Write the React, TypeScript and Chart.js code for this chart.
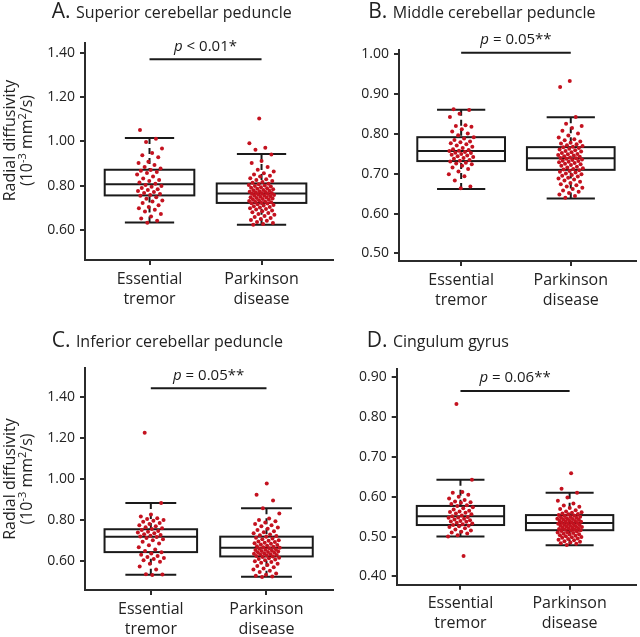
import React, { useEffect, useRef } from 'react';
import { Chart, registerables } from 'chart.js';
Chart.register(...registerables);

// ---------- data ----------
const xTickLabels = [['Essential', 'tremor'], ['Parkinson', 'disease']];
const panelLetters = ['A.', 'B.', 'C.', 'D.'];
const panelTitles = ['Superior cerebellar peduncle', 'Middle cerebellar peduncle', 'Inferior cerebellar peduncle', 'Cingulum gyrus'];
const pValueTexts = [' < 0.01*', ' = 0.05**', ' = 0.05**', ' = 0.06**'];
const sigBarY = [1.371, 1.004, 1.441, 0.866];

const yTicksA = [0.6, 0.8, 1.0, 1.2, 1.4];
const yTicksB = [0.5, 0.6, 0.7, 0.8, 0.9, 1.0];
const yTicksC = [0.6, 0.8, 1.0, 1.2, 1.4];
const yTicksD = [0.4, 0.5, 0.6, 0.7, 0.8, 0.9];

// box stats: [lower whisker, Q1, median, Q3, upper whisker]
const aEtBox = [0.633, 0.756, 0.807, 0.872, 1.015];
const aPdBox = [0.623, 0.722, 0.765, 0.810, 0.943];
const bEtBox = [0.662, 0.732, 0.757, 0.792, 0.861];
const bPdBox = [0.638, 0.710, 0.739, 0.767, 0.842];
const cEtBox = [0.535, 0.645, 0.719, 0.756, 0.884];
const cPdBox = [0.525, 0.624, 0.666, 0.720, 0.858];
const dEtBox = [0.500, 0.529, 0.551, 0.577, 0.643];
const dPdBox = [0.478, 0.516, 0.534, 0.554, 0.610];

const aEt = [1.052, 1.012, 0.998, 0.968, 0.948, 0.938, 0.928, 0.908, 0.902, 0.894, 0.884, 0.878, 0.871, 0.868, 0.862, 0.857, 0.851, 0.842, 0.833, 0.826, 0.821, 0.814, 0.809, 0.803, 0.799, 0.795, 0.789, 0.784, 0.781, 0.776, 0.771, 0.767, 0.762, 0.758, 0.755, 0.748, 0.741, 0.733, 0.728, 0.722, 0.712, 0.704, 0.698, 0.691, 0.683, 0.672, 0.661, 0.652, 0.641, 0.632];
const aPd = [1.104, 0.992, 0.972, 0.962, 0.941, 0.912, 0.903, 0.884, 0.872, 0.864, 0.856, 0.851, 0.845, 0.841, 0.834, 0.829, 0.826, 0.821, 0.817, 0.813, 0.809, 0.806, 0.803, 0.801, 0.798, 0.796, 0.793, 0.791, 0.788, 0.786, 0.784, 0.781, 0.779, 0.777, 0.775, 0.773, 0.771, 0.769, 0.767, 0.766, 0.764, 0.762, 0.760, 0.758, 0.756, 0.754, 0.752, 0.750, 0.748, 0.746, 0.744, 0.742, 0.740, 0.738, 0.736, 0.734, 0.731, 0.729, 0.727, 0.725, 0.723, 0.721, 0.719, 0.716, 0.713, 0.710, 0.707, 0.704, 0.701, 0.698, 0.695, 0.692, 0.688, 0.684, 0.680, 0.676, 0.672, 0.668, 0.663, 0.658, 0.654, 0.649, 0.645, 0.641, 0.636, 0.631, 0.627, 0.623];
const bEt = [0.862, 0.860, 0.851, 0.843, 0.822, 0.820, 0.818, 0.812, 0.806, 0.801, 0.797, 0.792, 0.789, 0.785, 0.781, 0.779, 0.777, 0.774, 0.771, 0.768, 0.765, 0.762, 0.760, 0.758, 0.757, 0.755, 0.753, 0.752, 0.750, 0.748, 0.746, 0.744, 0.742, 0.740, 0.738, 0.735, 0.733, 0.731, 0.728, 0.726, 0.724, 0.720, 0.716, 0.712, 0.706, 0.699, 0.694, 0.683, 0.668, 0.664];
const bPd = [0.933, 0.918, 0.843, 0.826, 0.820, 0.815, 0.808, 0.801, 0.796, 0.791, 0.787, 0.784, 0.781, 0.778, 0.776, 0.774, 0.772, 0.770, 0.768, 0.767, 0.765, 0.763, 0.761, 0.759, 0.757, 0.756, 0.754, 0.752, 0.750, 0.749, 0.747, 0.746, 0.744, 0.743, 0.741, 0.740, 0.739, 0.738, 0.736, 0.735, 0.733, 0.732, 0.730, 0.729, 0.727, 0.725, 0.724, 0.722, 0.720, 0.718, 0.716, 0.714, 0.712, 0.711, 0.709, 0.707, 0.705, 0.703, 0.701, 0.699, 0.697, 0.695, 0.693, 0.690, 0.688, 0.686, 0.683, 0.680, 0.677, 0.674, 0.671, 0.668, 0.665, 0.662, 0.658, 0.655, 0.652, 0.648, 0.644, 0.640];
const cEt = [1.225, 0.884, 0.828, 0.818, 0.810, 0.806, 0.801, 0.797, 0.792, 0.786, 0.781, 0.776, 0.771, 0.766, 0.761, 0.757, 0.752, 0.748, 0.744, 0.740, 0.736, 0.732, 0.728, 0.725, 0.721, 0.718, 0.713, 0.708, 0.702, 0.695, 0.687, 0.678, 0.668, 0.658, 0.650, 0.644, 0.638, 0.632, 0.626, 0.621, 0.616, 0.611, 0.605, 0.598, 0.588, 0.575, 0.561, 0.538, 0.536, 0.534];
const cPd = [0.978, 0.924, 0.896, 0.858, 0.832, 0.808, 0.801, 0.795, 0.789, 0.782, 0.776, 0.770, 0.764, 0.758, 0.752, 0.746, 0.741, 0.736, 0.731, 0.727, 0.723, 0.719, 0.715, 0.711, 0.707, 0.703, 0.700, 0.697, 0.694, 0.691, 0.688, 0.685, 0.682, 0.679, 0.676, 0.673, 0.671, 0.668, 0.666, 0.664, 0.661, 0.659, 0.657, 0.655, 0.652, 0.650, 0.648, 0.646, 0.644, 0.642, 0.640, 0.637, 0.635, 0.633, 0.631, 0.628, 0.626, 0.624, 0.621, 0.618, 0.615, 0.612, 0.609, 0.605, 0.601, 0.597, 0.593, 0.588, 0.583, 0.578, 0.572, 0.566, 0.560, 0.554, 0.548, 0.541, 0.535, 0.530, 0.527, 0.524];
const dEt = [0.833, 0.643, 0.612, 0.610, 0.605, 0.600, 0.596, 0.592, 0.588, 0.586, 0.585, 0.582, 0.579, 0.577, 0.574, 0.571, 0.568, 0.565, 0.563, 0.562, 0.560, 0.558, 0.556, 0.553, 0.551, 0.549, 0.548, 0.547, 0.545, 0.543, 0.541, 0.539, 0.538, 0.537, 0.535, 0.533, 0.531, 0.529, 0.527, 0.526, 0.524, 0.521, 0.518, 0.515, 0.512, 0.510, 0.508, 0.503, 0.500, 0.451];
const dPd = [0.659, 0.620, 0.610, 0.598, 0.590, 0.583, 0.578, 0.575, 0.572, 0.569, 0.566, 0.563, 0.561, 0.560, 0.558, 0.557, 0.556, 0.554, 0.553, 0.552, 0.550, 0.549, 0.548, 0.547, 0.546, 0.545, 0.544, 0.543, 0.542, 0.541, 0.540, 0.539, 0.538, 0.537, 0.536, 0.535, 0.534, 0.533, 0.532, 0.531, 0.530, 0.529, 0.528, 0.527, 0.526, 0.525, 0.524, 0.523, 0.522, 0.521, 0.520, 0.519, 0.518, 0.517, 0.516, 0.515, 0.514, 0.513, 0.511, 0.510, 0.509, 0.507, 0.506, 0.505, 0.503, 0.502, 0.501, 0.499, 0.498, 0.497, 0.495, 0.494, 0.492, 0.491, 0.488, 0.487, 0.485, 0.483, 0.482, 0.479];

// ---------- layout / style ----------
const FONT = '"Open Sans", sans-serif';
const INK = '#1a1a1a';
const AXIS = '#2b2b2b';
const RED = '#c4121f';
const W = 640, H = 637;
const YW = 60, XH = 60;
const BOX_W = 0.8, CAP_W = 0.44, JIT = 0.115;

const layouts = [
  { L: 85, R: 333, T: 43, B: 260, xMin: 0.424, xMax: 2.638, yMin: 0.464, yMax: 1.445, tx: 51.7, ty: 18, yTitleCY: 140.5 },
  { L: 399, R: 640, T: 50, B: 261, xMin: 0.433, xMax: 2.595, yMin: 0.481, yMax: 1.011, tx: 368.3, ty: 18, yTitleCY: null },
  { L: 85, R: 333, T: 368, B: 590, xMin: 0.431, xMax: 2.575, yMin: 0.461, yMax: 1.539, tx: 51.7, ty: 347, yTitleCY: 479 },
  { L: 396.7, R: 640, T: 368.7, B: 584.7, xMin: 0.416, xMax: 2.608, yMin: 0.379, yMax: 0.922, tx: 366.7, ty: 347, yTitleCY: null },
];

const panels = [
  { et: aEt, pd: aPd, etBox: aEtBox, pdBox: aPdBox, yTicks: yTicksA },
  { et: bEt, pd: bPd, etBox: bEtBox, pdBox: bPdBox, yTicks: yTicksB },
  { et: cEt, pd: cPd, etBox: cEtBox, pdBox: cPdBox, yTicks: yTicksC },
  { et: dEt, pd: dPd, etBox: dEtBox, pdBox: dPdBox, yTicks: yTicksD },
];

function jitter(i: number, seed: number) {
  const f = (i * 0.6180339887 + seed) % 1;
  return (f - 0.5) * 2 * JIT;
}

type Run = { t: string; size: number; italic?: boolean; dy?: number };
function drawRuns(ctx: CanvasRenderingContext2D, runs: Run[], x: number, y: number, align: 'left' | 'center') {
  const fontOf = (r: Run) => `${r.italic ? 'italic ' : ''}${r.size}px ${FONT}`;
  let total = 0;
  const widths = runs.map((r) => { ctx.font = fontOf(r); const w = ctx.measureText(r.t).width; total += w; return w; });
  let cx = align === 'center' ? x - total / 2 : x;
  ctx.textAlign = 'left';
  ctx.textBaseline = 'alphabetic';
  runs.forEach((r, i) => { ctx.font = fontOf(r); ctx.fillText(r.t, cx, y + (r.dy || 0)); cx += widths[i]; });
}

function makeChart(canvas: HTMLCanvasElement, idx: number) {
  const p = panels[idx];
  const lay = layouts[idx];
  const boxes = [p.etBox, p.pdBox];
  const plugin = {
    id: 'decor' + idx,
    beforeDatasetsDraw(chart: any) {
      const { ctx, scales: { x, y } } = chart;
      ctx.save();
      ctx.strokeStyle = INK;
      ctx.lineWidth = 2;
      const line = (x1: number, y1: number, x2: number, y2: number) => { ctx.beginPath(); ctx.moveTo(x1, y1); ctx.lineTo(x2, y2); ctx.stroke(); };
      boxes.forEach((b, gi) => {
        const c = gi + 1;
        const xc = x.getPixelForValue(c);
        const xl = x.getPixelForValue(c - BOX_W / 2), xr = x.getPixelForValue(c + BOX_W / 2);
        const cl = x.getPixelForValue(c - CAP_W / 2), cr = x.getPixelForValue(c + CAP_W / 2);
        const [lo, q1, med, q3, hi] = b.map((v) => y.getPixelForValue(v));
        ctx.setLineDash([6, 4]);
        line(xc, hi, xc, q3);
        line(xc, lo, xc, q1);
        ctx.setLineDash([]);
        line(cl, hi, cr, hi);
        line(cl, lo, cr, lo);
        ctx.strokeRect(xl, q3, xr - xl, q1 - q3);
        line(xl, med, xr, med);
      });
      ctx.restore();
    },
    afterDraw(chart: any) {
      const { ctx, scales: { x, y } } = chart;
      ctx.save();
      ctx.fillStyle = INK;
      ctx.strokeStyle = INK;
      // significance bar
      const by = y.getPixelForValue(sigBarY[idx]);
      const x1 = x.getPixelForValue(1), x2 = x.getPixelForValue(2);
      ctx.lineWidth = 2;
      ctx.beginPath(); ctx.moveTo(x1, by); ctx.lineTo(x2, by); ctx.stroke();
      drawRuns(ctx, [{ t: 'p', size: 15, italic: true }, { t: pValueTexts[idx], size: 15 }], (x1 + x2) / 2, by - 8.5, 'center');
      // panel title
      ctx.fillStyle = '#222';
      ctx.font = `21px ${FONT}`;
      const lw = ctx.measureText(panelLetters[idx] + ' ').width;
      drawRuns(ctx, [{ t: panelLetters[idx], size: 21 }], lay.tx, lay.ty, 'left');
      drawRuns(ctx, [{ t: panelTitles[idx], size: 16 }], lay.tx + lw, lay.ty, 'left');
      // y-axis title
      if (lay.yTitleCY !== null) {
        ctx.translate(0, lay.yTitleCY as number);
        ctx.rotate(-Math.PI / 2);
        drawRuns(ctx, [{ t: 'Radial diffusivity', size: 16 }], 0, 15, 'center');
        drawRuns(ctx, [
          { t: '(10', size: 16 }, { t: '-3', size: 11, dy: -6 }, { t: ' mm', size: 16 },
          { t: '2', size: 11, dy: -6 }, { t: '/s)', size: 16 },
        ], 0, 32, 'center');
      }
      ctx.restore();
    },
  };

  const ds = (vals: number[], c: number, seed: number) => ({
    data: vals.map((v, i) => ({ x: c + jitter(i, seed), y: v })),
    pointRadius: 2,
    pointBackgroundColor: RED,
    pointBorderWidth: 0,
    showLine: false,
  });

  return new Chart(canvas, {
    type: 'scatter',
    data: { datasets: [ds(p.et, 1, 0.13 + idx * 0.07), ds(p.pd, 2, 0.41 + idx * 0.05)] as any },
    options: {
      animation: false,
      responsive: false,
      devicePixelRatio: 1,
      events: [],
      layout: { padding: { left: lay.L - YW, top: lay.T, right: W - lay.R, bottom: H - lay.B - XH } },
      plugins: { legend: { display: false }, tooltip: { enabled: false }, title: { display: false } },
      scales: {
        x: {
          type: 'linear', min: lay.xMin, max: lay.xMax,
          afterBuildTicks: (s: any) => { s.ticks = [{ value: 1 }, { value: 2 }]; },
          afterFit: (s: any) => { s.height = XH; },
          ticks: {
            callback: (v: any) => xTickLabels[Math.round(Number(v)) - 1],
            font: { family: FONT, size: 16, lineHeight: 1.25 }, color: '#222', padding: 4, maxRotation: 0, autoSkip: false,
          },
          grid: { display: true, drawOnChartArea: false, drawTicks: true, tickLength: 5, color: AXIS, lineWidth: 2 },
          border: { display: true, color: AXIS, width: 2 },
        },
        y: {
          type: 'linear', min: lay.yMin, max: lay.yMax,
          afterBuildTicks: (s: any) => { s.ticks = p.yTicks.map((v) => ({ value: v })); },
          afterFit: (s: any) => { s.width = YW; },
          ticks: {
            callback: (v: any) => Number(v).toFixed(2),
            font: { family: FONT, size: 14 }, color: '#222', padding: 5, autoSkip: false,
          },
          grid: { display: true, drawOnChartArea: false, drawTicks: true, tickLength: 5, color: AXIS, lineWidth: 2 },
          border: { display: true, color: AXIS, width: 2 },
        },
      },
    } as any,
    plugins: [plugin],
  });
}

export default function App() {
  const refs = [useRef<HTMLCanvasElement>(null), useRef<HTMLCanvasElement>(null), useRef<HTMLCanvasElement>(null), useRef<HTMLCanvasElement>(null)];
  useEffect(() => {
    const charts = refs.map((r, i) => makeChart(r.current as HTMLCanvasElement, i));
    return () => charts.forEach((c) => c.destroy());
  }, []);
  return (
    <div style={{ position: 'fixed', left: 0, top: 0, width: W, height: H, background: '#fff', overflow: 'hidden' }}>
      {refs.map((r, i) => (
        <canvas key={i} ref={r} width={W} height={H} style={{ position: 'absolute', left: 0, top: 0, width: W, height: H }} />
      ))}
    </div>
  );
}
